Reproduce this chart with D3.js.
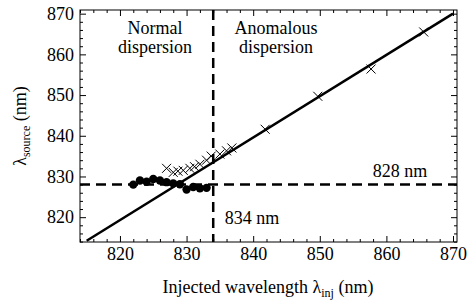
<!DOCTYPE html>
<html>
<head>
<meta charset="utf-8">
<script src="https://cdn.jsdelivr.net/npm/d3@7"></script>
<style>
  body { margin: 0; background: #fff; }
  svg text { font-family: "Liberation Serif", "Tinos", "Times New Roman", Times, "DejaVu Serif", serif !important; }
</style>
</head>
<body>
<div id="chart"></div>
<script>
// measured points (nm)
const crossX = [827, 828, 828.7, 829.5, 830.5, 831.2, 832, 833, 833.7, 835, 836, 836.8, 841.8, 849.7, 857.7, 865.6];
const crossY = [832, 831, 831.3, 831.5, 832, 832.4, 833, 834, 835, 835.5, 836.3, 837, 841.6, 849.7, 856.4, 865.5];
const dotX = [822, 823, 824, 825, 826, 827, 828, 829, 830, 831, 832, 833];
const dotY = [828, 829, 828.7, 829.4, 829, 828.6, 828.3, 828.1, 826.8, 827.4, 827.1, 827.2];
const fitX = [815, 870];
const fitY = [814.2, 870];
const xTicks = [820, 830, 840, 850, 860, 870];
const yTicks = [820, 830, 840, 850, 860, 870];
const markX = 834;
const markY = 828;

const width = 470;
const height = 301;
const frame = { left: 80, right: 457, top: 10, bottom: 242 };

const svg = d3.select("#chart")
  .append("svg")
  .attr("width", width)
  .attr("height", height);

const xScale = d3.scaleLinear().domain([814, 870.6]).range([frame.left, frame.right]);
const yScale = d3.scaleLinear().domain([813.9, 870.9]).range([frame.bottom, frame.top]);

const minorX = d3.range(814, 871, 2).filter(v => v % 10 !== 0);
const minorY = d3.range(814, 871, 2).filter(v => v % 10 !== 0);

// axes: inward ticks on all four sides
const addAxis = (axis, tx, ty, labels) => {
  const g = svg.append("g")
    .attr("transform", "translate(" + tx + "," + ty + ")")
    .call(axis)
    .attr("font-size", 18);
  g.select(".domain").remove();
  g.selectAll("line").attr("stroke", "#000").attr("stroke-width", 1);
  if (!labels) g.selectAll("text").remove();
  else g.selectAll("text").attr("fill", "#000");
  return g;
};

addAxis(d3.axisBottom(xScale).tickValues(xTicks).tickSize(-6).tickPadding(5).tickFormat(d3.format("d")), 0, frame.bottom, true);
addAxis(d3.axisBottom(xScale).tickValues(minorX).tickSize(-3), 0, frame.bottom, false);
addAxis(d3.axisTop(xScale).tickValues(xTicks).tickSize(-6), 0, frame.top, false);
addAxis(d3.axisTop(xScale).tickValues(minorX).tickSize(-3), 0, frame.top, false);
addAxis(d3.axisLeft(yScale).tickValues(yTicks).tickSize(-6).tickPadding(6).tickFormat(d3.format("d")), frame.left, 0, true);
addAxis(d3.axisLeft(yScale).tickValues(minorY).tickSize(-3), frame.left, 0, false);
addAxis(d3.axisRight(yScale).tickValues(yTicks).tickSize(-6), frame.right, 0, false);
addAxis(d3.axisRight(yScale).tickValues(minorY).tickSize(-3), frame.right, 0, false);

svg.append("rect")
  .attr("x", frame.left)
  .attr("y", frame.top)
  .attr("width", frame.right - frame.left)
  .attr("height", frame.bottom - frame.top)
  .attr("fill", "none")
  .attr("stroke", "#000")
  .attr("stroke-width", 1);

// dashed guides
svg.append("line")
  .attr("x1", frame.left).attr("x2", frame.right)
  .attr("y1", yScale(markY)).attr("y2", yScale(markY))
  .attr("stroke", "#000").attr("stroke-width", 2.5)
  .attr("stroke-dasharray", "10,6");

svg.append("line")
  .attr("x1", xScale(markX)).attr("x2", xScale(markX))
  .attr("y1", frame.top).attr("y2", frame.bottom)
  .attr("stroke", "#000").attr("stroke-width", 2.5)
  .attr("stroke-dasharray", "10,6");

// fit line
const line = d3.line().x(d => xScale(d[0])).y(d => yScale(d[1]));
svg.append("path")
  .datum(fitX.map((x, i) => [x, fitY[i]]))
  .attr("d", line)
  .attr("fill", "none")
  .attr("stroke", "#000")
  .attr("stroke-width", 2.5);

// filled circles
dotX.forEach((x, i) => {
  svg.append("circle")
    .attr("cx", xScale(x))
    .attr("cy", yScale(dotY[i]))
    .attr("r", 4.2)
    .attr("fill", "#000");
});

// crosses
const cs = 4.5;
crossX.forEach((x, i) => {
  const cx = xScale(x), cy = yScale(crossY[i]);
  svg.append("path")
    .attr("d", `M${cx - cs},${cy - cs}L${cx + cs},${cy + cs}M${cx - cs},${cy + cs}L${cx + cs},${cy - cs}`)
    .attr("stroke", "#000")
    .attr("stroke-width", 1)
    .attr("fill", "none");
});

// annotations
const addText = (x, y, str, size) => svg.append("text")
  .attr("x", x).attr("y", y)
  .attr("text-anchor", "middle")
  .attr("font-size", size)
  .text(str);

addText(155, 34, "Normal", 18);
addText(155, 53, "dispersion", 18);
addText(276, 34, "Anomalous", 18);
addText(276, 53, "dispersion", 18);
addText(400, 177, "828 nm", 18);
addText(252, 224, "834 nm", 18);

// axis titles
const xt = svg.append("text")
  .attr("x", 268).attr("y", 293)
  .attr("text-anchor", "middle")
  .attr("font-size", 18);
xt.append("tspan").text("Injected wavelength λ");
xt.append("tspan").attr("font-size", 12).attr("dy", 4).text("inj");
xt.append("tspan").attr("dy", -4).text(" (nm)");

const yt = svg.append("text")
  .attr("transform", "translate(26,126) rotate(-90)")
  .attr("text-anchor", "middle")
  .attr("font-size", 18);
yt.append("tspan").text("λ");
yt.append("tspan").attr("font-size", 12).attr("dy", 4).text("source");
yt.append("tspan").attr("dy", -4).text(" (nm)");
</script>
</body>
</html>
